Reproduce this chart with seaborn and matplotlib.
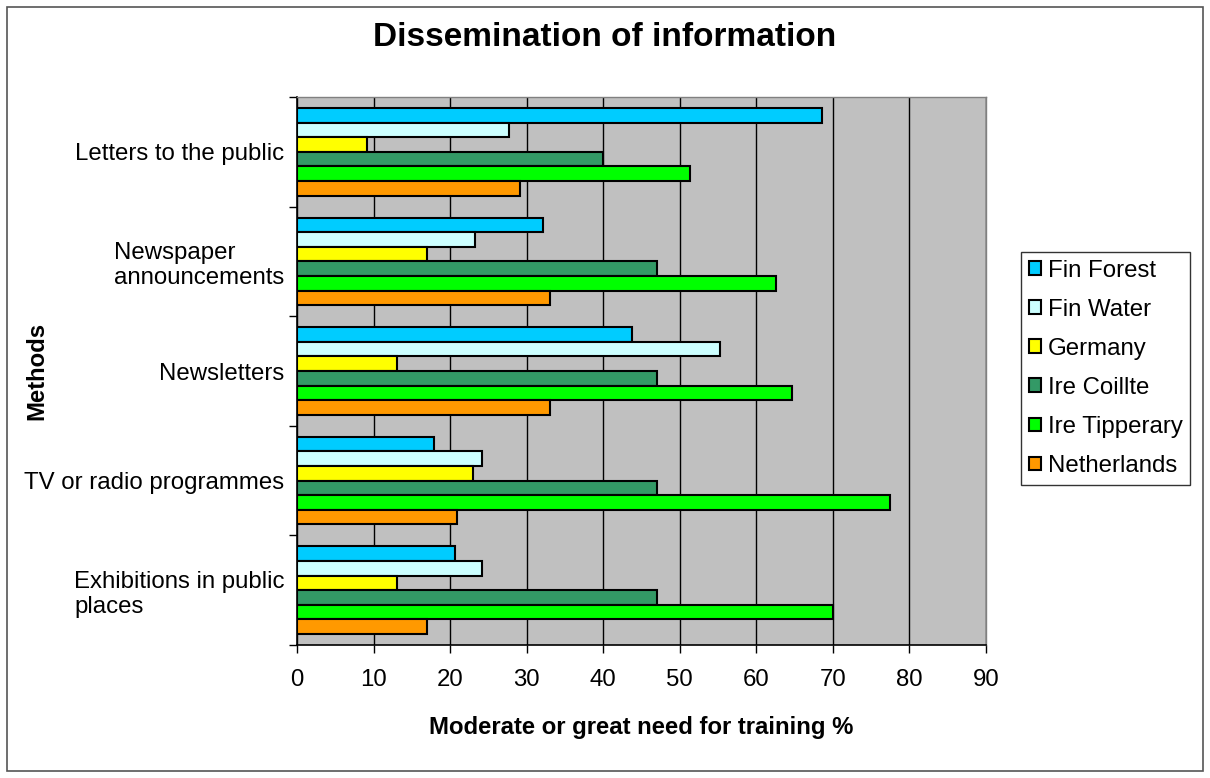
import matplotlib
matplotlib.use("Agg")
import matplotlib.pyplot as plt
import seaborn as sns
import pandas as pd
from matplotlib.patches import Rectangle

# Survey data: share of respondents reporting moderate or great need for training (%)
methods = [
    "Letters to the public",
    "Newspaper\nannouncements",
    "Newsletters",
    "TV or radio programmes",
    "Exhibitions in public\nplaces",
]
groups = ["Fin Forest", "Fin Water", "Germany", "Ire Coillte", "Ire Tipperary", "Netherlands"]

fin_forest = [68.6, 32.1, 43.7, 17.9, 20.7]
fin_water = [27.7, 23.3, 55.2, 24.2, 24.2]
germany = [9.1, 17.0, 13.0, 23.0, 13.0]
ire_coillte = [40.0, 47.0, 47.0, 47.0, 47.0]
ire_tipperary = [51.4, 62.6, 64.7, 77.5, 70.0]
netherlands = [29.1, 33.0, 33.0, 20.9, 17.0]

x_ticks = [0, 10, 20, 30, 40, 50, 60, 70, 80, 90]

colors = ["#00CCFF", "#CCFFFF", "#FFFF00", "#339966", "#00FF00", "#FF9900"]

series = [fin_forest, fin_water, germany, ire_coillte, ire_tipperary, netherlands]
rows = []
for g, vals in zip(groups, series):
    for m, v in zip(methods, vals):
        rows.append({"method": m, "group": g, "value": v})
df = pd.DataFrame(rows)

sns.set_theme(style="white")
plt.rcParams["font.family"] = ["Liberation Sans", "DejaVu Sans"]

W, H = 1210, 778
fig = plt.figure(figsize=(W / 100, H / 100), dpi=100)
fig.patch.set_facecolor("white")
ax = fig.add_axes([297 / W, 1 - 645 / H, (986 - 297) / W, (645 - 97) / H])
ax.set_facecolor("#C0C0C0")

sns.barplot(
    data=df, y="method", x="value", hue="group", orient="h",
    order=methods, hue_order=groups, palette=colors, saturation=1,
    edgecolor="black", linewidth=1.5, width=0.8, errorbar=None, ax=ax,
    zorder=3,
)

ax.set_xlim(0, 90)
ax.set_ylim(4.5, -0.5)
ax.set_xticks(x_ticks)
ax.set_xticklabels([str(t) for t in x_ticks])
ax.xaxis.grid(True, color="black", linewidth=1.0, zorder=1)
ax.yaxis.grid(False)
ax.set_axisbelow(True)

# Category separators as outward ticks on the value axis
ax.set_yticks([i - 0.5 for i in range(len(methods) + 1)], minor=True)
ax.tick_params(axis="y", which="minor", length=6, width=1, color="black", direction="out", left=True)
ax.tick_params(axis="y", which="major", length=0, pad=9, labelsize=17.3, labelcolor="black")
ax.tick_params(axis="x", which="major", length=6, width=1, color="black", direction="out",
               bottom=True, pad=11, labelsize=17.3, labelcolor="black")
for lbl in ax.get_yticklabels():
    lbl.set_multialignment("left")

for side in ["left", "bottom"]:
    ax.spines[side].set_color("black")
    ax.spines[side].set_linewidth(1.2)
for side in ["top", "right"]:
    ax.spines[side].set_color("#808080")
    ax.spines[side].set_linewidth(1.0)

ax.set_xlabel("Moderate or great need for training %", fontsize=17.2, fontweight="bold",
              color="black", labelpad=18)
ax.set_ylabel("Methods", fontsize=17.2, fontweight="bold", color="black")
ax.yaxis.set_label_coords((48 - 297) / (986 - 297), 0.5)

fig.suptitle("Dissemination of information", x=0.5, y=1 - 38 / H, va="center",
             fontsize=24, fontweight="bold", color="black")

handles, labels = ax.get_legend_handles_labels()
if ax.get_legend() is not None:
    ax.get_legend().remove()
leg = fig.legend(
    handles, labels, loc="upper left", bbox_to_anchor=(1021 / W, 1 - 252 / H),
    bbox_transform=fig.transFigure, borderaxespad=0, frameon=True, fancybox=False,
    fontsize=17.3, handlelength=0.5, handleheight=0.5, handletextpad=0.3,
    labelspacing=0.71, borderpad=0.32,
)
leg.get_frame().set_edgecolor("black")
leg.get_frame().set_linewidth(1.0)
leg.get_frame().set_facecolor("white")
for t in leg.get_texts():
    t.set_color("black")

# Outer chart border
fig.add_artist(Rectangle((7 / W, 7 / H), (W - 14) / W, (H - 14) / H,
                         transform=fig.transFigure, fill=False,
                         edgecolor="#555555", linewidth=1.2))

fig.savefig("out.png", dpi=100)
